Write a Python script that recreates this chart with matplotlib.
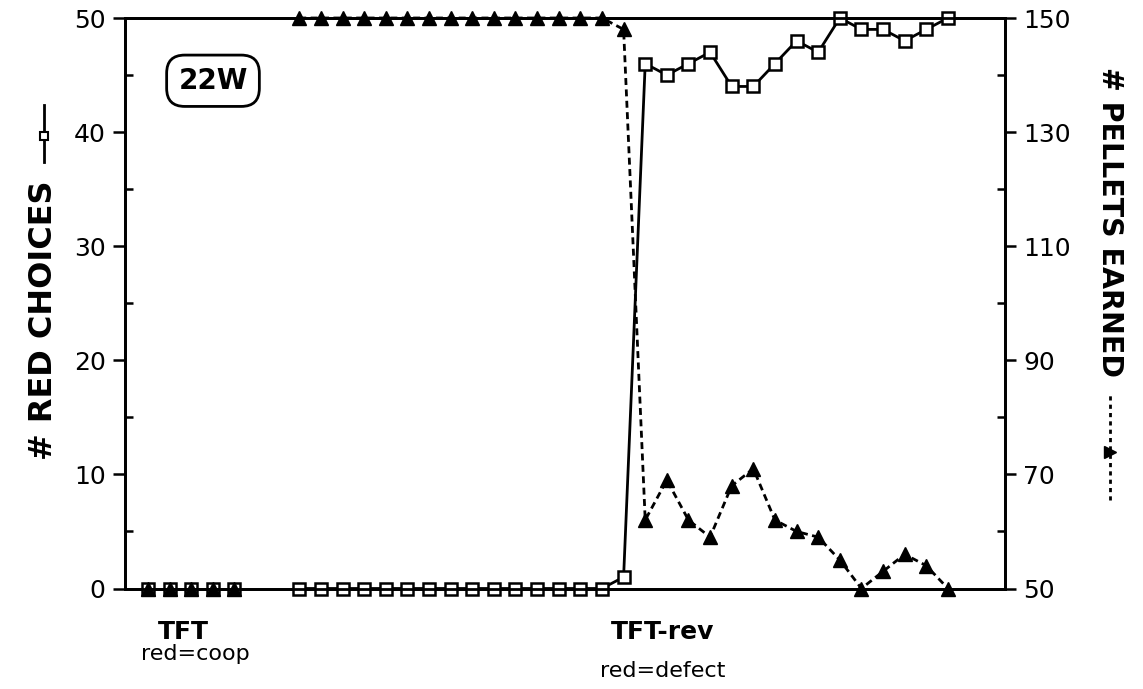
import matplotlib
matplotlib.use("Agg")
import matplotlib.pyplot as plt
from matplotlib.lines import Line2D
from matplotlib import font_manager

# ---------------- data ----------------
# session indices (x positions, one unit per session)
sessions_tft = [0, 1, 2, 3, 4]
red_tft = [0, 0, 0, 0, 0]
pellets_tft = [50, 50, 50, 50, 50]

sessions_rev = [7, 8, 9, 10, 11, 12, 13, 14, 15, 16, 17, 18, 19, 20, 21, 22,
                23, 24, 25, 26, 27, 28, 29, 30, 31, 32, 33, 34, 35, 36, 37]
red_rev = [0, 0, 0, 0, 0, 0, 0, 0, 0, 0, 0, 0, 0, 0, 0, 1,
           46, 45, 46, 47, 44, 44, 46, 48, 47, 50, 49, 49, 48, 49, 50]
pellets_rev = [150, 150, 150, 150, 150, 150, 150, 150, 150, 150, 150, 150, 150, 150, 150, 148,
               62, 69, 62, 59, 68, 71, 62, 60, 59, 55, 50, 53, 56, 54, 50]

left_ticks = [0, 10, 20, 30, 40, 50]
left_minor = [5, 15, 25, 35, 45]
right_ticks = [50, 70, 90, 110, 130, 150]
right_minor = [60, 80, 100, 120, 140]

# ---------------- fonts ----------------
avail = {f.name for f in font_manager.fontManager.ttflist}
def pick(*names):
    for n in names:
        if n in avail:
            return n
    return "DejaVu Sans"
cond = pick("DejaVu Sans Condensed", "Liberation Sans Narrow", "DejaVu Sans")

plt.rcParams['font.family'] = ['DejaVu Sans']

W, H = 1143, 689
fig = plt.figure(figsize=(W / 100, H / 100), dpi=100)
ax = fig.add_axes([125 / W, 1 - 588.5 / H, (1005 - 125) / W, (588.5 - 18) / H])
ax2 = ax.twinx()

ax.set_xlim(-1.06, 39.64)
ax.set_ylim(0, 50)
ax2.set_ylim(50, 150)

lw = 2.0
# red choices (solid, open squares)
sq = dict(color='black', lw=lw, marker='s', ms=8.5, mfc='white', mec='black', mew=1.8,
          clip_on=False, zorder=3)
ax.plot(sessions_tft, red_tft, **sq)
ax.plot(sessions_rev, red_rev, **sq)

# pellets (dashed, filled triangles)
tr = dict(color='black', lw=lw, ls=(0, (2.5, 1.6)), marker='^', ms=10.5, mfc='black', mec='black',
          clip_on=False, zorder=4)
ax2.plot(sessions_tft, pellets_tft, **tr)
ax2.plot(sessions_rev, pellets_rev, **tr)

# spines / ticks
for a in (ax, ax2):
    for s in a.spines.values():
        s.set_linewidth(2.0)
ax.set_xticks([])
ax.set_yticks(left_ticks)
ax.set_yticks(left_minor, minor=True)
ax.tick_params(axis='y', which='major', direction='out', length=9, width=1.8, pad=5,
               labelsize=18)
ax.tick_params(axis='y', which='minor', direction='in', length=6, width=1.8)
ax2.set_yticks(right_ticks)
ax2.set_yticks(right_minor, minor=True)
ax2.tick_params(axis='y', which='major', direction='out', length=8, width=1.8, pad=5,
                labelsize=18)
ax2.tick_params(axis='y', which='minor', direction='in', length=6, width=1.8)

# 22W box
ax.text(0.100, 0.890, "22W", transform=ax.transAxes, ha='center', va='center',
        fontsize=20, fontweight='bold',
        bbox=dict(boxstyle='round,pad=0.42,rounding_size=0.65', fc='white', ec='black', lw=2.0))

# axis labels (as text) with line/marker keys
fig.text(44 / W, 1 - 320 / H, "# RED CHOICES", rotation=90, ha='center', va='center',
         fontsize=23, fontweight='bold', family=cond)
fig.add_artist(Line2D([44 / W, 44 / W], [1 - 162 / H, 1 - 105 / H], transform=fig.transFigure,
                      color='black', lw=2.0))
fig.add_artist(Line2D([44 / W], [1 - 136 / H], transform=fig.transFigure, marker='s', ms=5.5,
                      mfc='white', mec='black', mew=1.5, ls='none'))

fig.text(1110 / W, 1 - 222 / H, "# PELLETS EARNED", rotation=-90, ha='center', va='center',
         fontsize=20.5, fontweight='bold', family=cond)
fig.add_artist(Line2D([1110 / W, 1110 / W], [1 - 500 / H, 1 - 393 / H], transform=fig.transFigure,
                      color='black', lw=2.0, ls=(0, (1.5, 1.5))))
fig.add_artist(Line2D([1110 / W], [1 - 452 / H], transform=fig.transFigure, marker='>', ms=8,
                      mfc='black', mec='black', ls='none'))

# phase labels
fig.text(183 / W, 1 - 632 / H, "TFT", ha='center', va='center', fontsize=18,
         fontweight='bold', family=cond)
fig.text(195 / W, 1 - 654 / H, "red=coop", ha='center', va='center', fontsize=16)
fig.text(663 / W, 1 - 632 / H, "TFT-rev", ha='center', va='center', fontsize=18,
         fontweight='bold', family=cond)
fig.text(663 / W, 1 - 671 / H, "red=defect", ha='center', va='center', fontsize=16)

fig.savefig("out.png", dpi=100)
